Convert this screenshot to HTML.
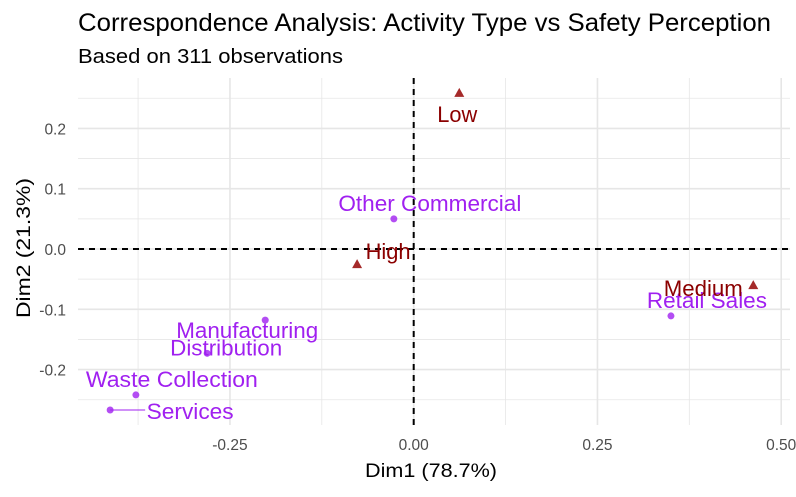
<!DOCTYPE html>
<html><head><meta charset="utf-8"><style>
body{margin:0;background:#fff;font-family:"Liberation Sans",Arial,sans-serif;}
svg,svg text{font-family:"Liberation Sans",Arial,sans-serif;}
</style></head><body>
<svg id="chart" width="796" height="492" xmlns="http://www.w3.org/2000/svg">
<text x="78" y="31" font-size="25" textLength="693" lengthAdjust="spacingAndGlyphs" fill="#000">Correspondence Analysis: Activity Type vs Safety Perception</text>
<text x="78" y="63" font-size="20" textLength="265" lengthAdjust="spacingAndGlyphs" fill="#000">Based on 311 observations</text>
<g id="grid"></g><g id="marks"></g>
<text x="431" y="477" font-size="19" textLength="132" lengthAdjust="spacingAndGlyphs" text-anchor="middle" fill="#000">Dim1 (78.7%)</text>
<text transform="translate(30,248) rotate(-90)" font-size="19" textLength="140" lengthAdjust="spacingAndGlyphs" text-anchor="middle" fill="#000">Dim2 (21.3%)</text>
</svg>
<script>
const rowNames=["Other Commercial","Retail Sales","Manufacturing","Distribution","Waste Collection","Services"];
const rowX=[-0.027,0.350,-0.202,-0.281,-0.378,-0.413];
const rowY=[0.050,-0.111,-0.118,-0.173,-0.242,-0.267];
const colNames=["Low","High","Medium"];
const colX=[0.062,-0.077,0.462];
const colY=[0.259,-0.025,-0.060];
const xTicks=[-0.25,0,0.25,0.5];
const xTickLabels=["-0.25","0.00","0.25","0.50"];
const yTicks=[-0.2,-0.1,0,0.1,0.2];
const yTickLabels=["-0.2","-0.1","0.0","0.1","0.2"];
const L=78,R=790,T=78,B=425;
const sx=v=>413.7+v*735, sy=v=>249-v*603;
const NS="http://www.w3.org/2000/svg";
const grid=document.getElementById('grid'), marks=document.getElementById('marks');
function mk(p,tag,a){const e=document.createElementNS(NS,tag);for(const k in a)e.setAttribute(k,a[k]);p.appendChild(e);return e;}
for(let v=-0.375;v<=0.55;v+=0.125){const x=sx(v);if(x<L||x>R)continue;
 const major=Math.abs(v/0.25-Math.round(v/0.25))<1e-6;
 const l=mk(grid,'line',{x1:x,x2:x,y1:T,y2:B,stroke:'#e6e6e6','stroke-width':major?1.6:0.8});
 
 }
for(let v=-0.25;v<=0.26;v+=0.05){const y=sy(v);if(y<T||y>B)continue;
 const major=Math.abs(v*10-Math.round(v*10))<1e-6;
 const l=mk(grid,'line',{x1:L,x2:R,y1:y,y2:y,stroke:'#e6e6e6','stroke-width':major?1.6:0.8});
 
 }
xTicks.forEach((v,i)=>{const t=mk(grid,'text',{x:sx(v),y:450,'font-size':15.5,fill:'#4d4d4d','text-anchor':'middle'});t.textContent=xTickLabels[i];
 
 });
yTicks.forEach((v,i)=>{const t=mk(grid,'text',{x:66,y:sy(v)+6,'font-size':15.5,fill:'#4d4d4d','text-anchor':'end'});t.textContent=yTickLabels[i];
 
 });
let h=mk(grid,'line',{x1:L,x2:R,y1:sy(0),y2:sy(0),stroke:'#000','stroke-width':2,'stroke-dasharray':'6,5'});


let vl=mk(grid,'line',{x1:sx(0),x2:sx(0),y1:T,y2:B,stroke:'#000','stroke-width':2,'stroke-dasharray':'6,5'});


const rowOff=[[36,-16],[36,-16],[-18,10],[19,-6],[36,-16],[80,1]];
const rowLen=[183,120,142,112,172,87];
const colOff=[[-2,21],[31,-13],[-50,3]];
const colLen=[40,45,79];
rowNames.forEach((n,i)=>{const x=sx(rowX[i]),y=sy(rowY[i]);
 if(n==="Services"){const s=mk(marks,'line',{x1:x,y1:y,x2:x+35,y2:y,stroke:'#a020f0','stroke-width':1});
  
  }
 const c=mk(marks,'circle',{cx:x,cy:y,r:3.5,fill:'#a020f0','fill-opacity':0.8});
 
 
 const t=mk(marks,'text',{x:x+rowOff[i][0],y:y+rowOff[i][1]+8,'font-size':22,fill:'#a020f0','text-anchor':'middle',textLength:rowLen[i],lengthAdjust:'spacingAndGlyphs'});t.textContent=n;
 
 });
colNames.forEach((n,i)=>{const x=sx(colX[i]),y=sy(colY[i]);
 const p=mk(marks,'polygon',{points:`${x},${y-5} ${x-5},${y+4} ${x+5},${y+4}`,fill:'#a52a2a'});
 
 
 const t=mk(marks,'text',{x:x+colOff[i][0],y:y+colOff[i][1]+8,'font-size':22,fill:'#8b0000','text-anchor':'middle',textLength:colLen[i],lengthAdjust:'spacingAndGlyphs'});t.textContent=n;
 
 });
</script>
</body></html>
